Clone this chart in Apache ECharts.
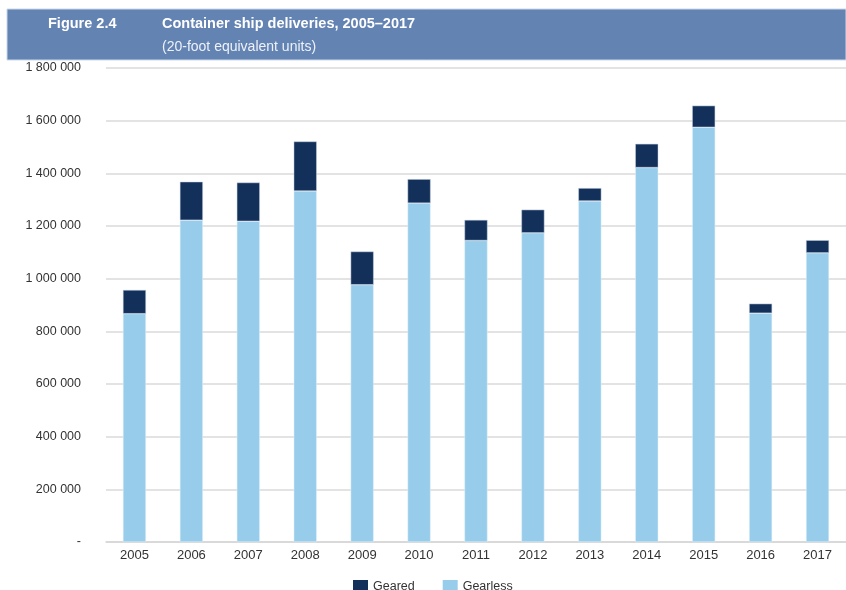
<!DOCTYPE html>
<html>
<head>
<meta charset="utf-8">
<script src="https://cdn.jsdelivr.net/npm/echarts@6/dist/echarts.min.js"></script>
<style>
  html, body { margin: 0; padding: 0; background: #fff; }
  #chart { width: 846px; height: 590px; }
</style>
</head>
<body>
<div id="chart"></div>
<script>
// data (TEU)
const years = ['2005', '2006', '2007', '2008', '2009', '2010', '2011', '2012', '2013', '2014', '2015', '2016', '2017']
const gearless = [867000, 1222000, 1218000, 1333000, 977000, 1287000, 1145000, 1174000, 1295000, 1422000, 1575000, 869000, 1098000]
const geared = [90000, 146000, 147000, 188000, 126000, 91000, 78000, 88000, 49000, 90000, 82000, 36000, 48000]

const FONT = '"Liberation Sans", Arial, sans-serif'
const DARK = '#12305a'
const LIGHT = '#97cdea'

// 1 800 000 style labels
const fmtNum = v => v === 0 ? '-' : String(v).replace(/\B(?=(\d{3})+(?!\d))/g, ' ')

const chart = echarts.init(document.getElementById('chart'))

const option = {
  animation: false,
  textStyle: { fontFamily: FONT },
  graphic: [
    {
      type: 'rect',
      shape: { x: 7, y: 9, width: 839, height: 51 },
      style: { fill: '#6383b3', stroke: '#c9d8ea', lineWidth: 1 }
    },
    {
      type: 'text', x: 48, y: 24,
      style: { text: 'Figure 2.4', fill: '#fff', font: 'bold 14.5px ' + FONT, verticalAlign: 'middle' }
    },
    {
      type: 'text', x: 162, y: 24,
      style: { text: 'Container ship deliveries, 2005–2017', fill: '#fff', font: 'bold 14.5px ' + FONT, verticalAlign: 'middle' }
    },
    {
      type: 'text', x: 162, y: 47,
      style: { text: '(20-foot equivalent units)', fill: '#eef2f8', font: '14px ' + FONT, verticalAlign: 'middle' }
    }
  ],
  legend: {
    data: ['Geared', 'Gearless'],
    left: 348,
    top: 575,
    itemWidth: 15,
    itemHeight: 13,
    itemGap: 28,
    icon: 'rect',
    itemStyle: { borderWidth: 0 },
    textStyle: { fontFamily: FONT, fontSize: 12.5, color: '#333' }
  },
  grid: {
    left: 106,
    right: -6,
    top: 68,
    bottom: 48
  },
  xAxis: {
    type: 'category',
    data: years,
    axisLine: { lineStyle: { color: '#d6d6d6', width: 1.5 } },
    axisTick: { show: false },
    axisLabel: { color: '#333', fontSize: 13, fontFamily: FONT, margin: 7 }
  },
  yAxis: {
    type: 'value',
    min: 0,
    max: 1800000,
    interval: 200000,
    axisLine: { show: false },
    axisTick: { show: false },
    splitLine: { lineStyle: { color: '#dadada', width: 1.5 } },
    axisLabel: {
      color: '#333', fontSize: 12.5, fontFamily: FONT, margin: 25,
      formatter: fmtNum
    }
  },
  series: [
    {
      name: 'Gearless',
      type: 'bar',
      stack: 'total',
      barWidth: 23,
      data: gearless,
      itemStyle: { color: LIGHT, borderColor: '#e3f1fa', borderWidth: 0.5 }
    },
    {
      name: 'Geared',
      type: 'bar',
      stack: 'total',
      barWidth: 23,
      data: geared,
      itemStyle: { color: DARK, borderColor: '#c7d3e0', borderWidth: 0.5 }
    }
  ]
}

chart.setOption(option)
</script>
</body>
</html>
